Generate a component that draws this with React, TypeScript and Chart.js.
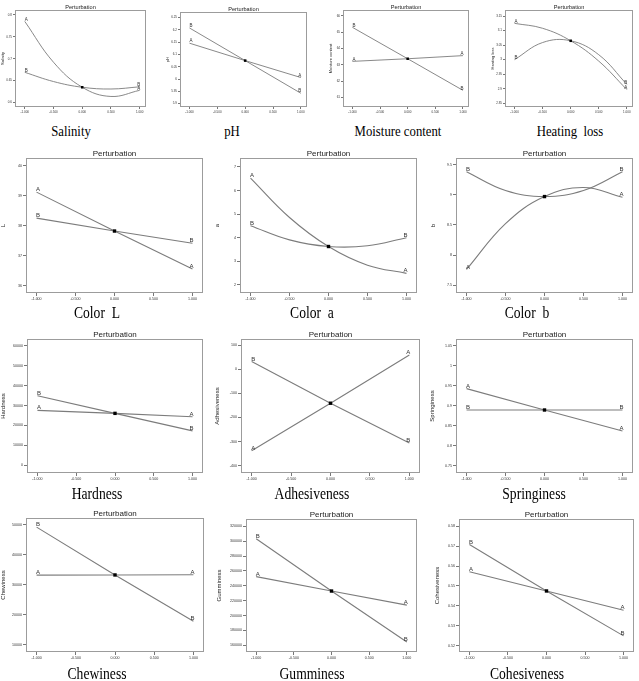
import React, { useEffect, useRef } from "react";
import { Chart, registerables } from "chart.js";

Chart.register(...registerables);

// x positions (coded factor level) of the plotted points
const curveX = [-1, -0.5, 0, 0.5, 1];
const lineX = [-1, 0, 1];
const xTickValues = [-1, -0.5, 0, 0.5, 1];
const xTickLabels = ["-1.000", "-0.500", "0.000", "0.500", "1.000"];

// Salinity
const salinityA = [0.785, 0.692, 0.635, 0.614, 0.628];
const salinityB = [0.669, 0.648, 0.635, 0.631, 0.636];
const salinityTicks = [0.6, 0.65, 0.7, 0.75, 0.8];

// pH
const phA = [6.146, 6.075, 6.006];
const phB = [6.208, 6.075, 5.942];
const phTicks = [5.9, 5.95, 6, 6.05, 6.1, 6.15, 6.2, 6.25];

// Moisture content
const moistureA = [63.21, 63.37, 63.56];
const moistureB = [65.29, 63.37, 61.44];
const moistureTicks = [61, 62, 63, 64, 65, 66];

// Heating loss
const heatingA = [3.125, 3.108, 3.065, 2.995, 2.897];
const heatingB = [3.0, 3.059, 3.065, 3.017, 2.915];
const heatingTicks = [2.85, 2.9, 2.95, 3, 3.05, 3.1, 3.15];

// Color L
const colorLA = [39.12, 37.82, 36.55];
const colorLB = [38.25, 37.82, 37.41];
const colorLTicks = [36, 37, 38, 39, 40];

// Color a
const colorAA = [6.53, 4.86, 3.63, 2.84, 2.49];
const colorAB = [4.51, 3.91, 3.63, 3.66, 4.0];
const colorATicks = [2, 3, 4, 5, 6, 7];

// Color b
const colorBA = [7.76, 8.52, 8.97, 9.12, 8.96];
const colorBB = [9.38, 9.07, 8.97, 9.07, 9.38];
const colorBTicks = [7.5, 8, 8.5, 9, 9.5];

// Hardness
const hardnessA = [27600, 26100, 24400];
const hardnessB = [35000, 26100, 17300];
const hardnessTicks = [0, 10000, 20000, 30000, 40000, 50000, 60000];

// Adhesiveness
const adhesivenessA = [-338, -141, 59];
const adhesivenessB = [32, -141, -306];
const adhesivenessTicks = [-400, -300, -200, -100, 0, 100];

// Springiness
const springinessA = [0.943, 0.8895, 0.837];
const springinessB = [0.8895, 0.8895, 0.8895];
const springinessTicks = [0.75, 0.8, 0.85, 0.9, 0.95, 1, 1.05];

// Chewiness
const chewinessA = [33200, 33240, 33300];
const chewinessB = [49200, 33240, 17800];
const chewinessTicks = [10000, 20000, 30000, 40000, 50000];

// Gumminess
const gumminessA = [252400, 233000, 214100];
const gumminessB = [303300, 233000, 164500];
const gumminessTicks = [160000, 180000, 200000, 220000, 240000, 260000, 280000, 300000, 320000];

// Cohesiveness
const cohesivenessA = [0.5572, 0.5475, 0.5378];
const cohesivenessB = [0.5709, 0.5475, 0.5249];
const cohesivenessTicks = [0.52, 0.53, 0.54, 0.55, 0.56, 0.57, 0.58];

const SANS = '"Liberation Sans", Arial, sans-serif';
const SERIF = '"Liberation Serif", "Times New Roman", serif';
const LINE = "#7c7c7c";
const FRAME = "#9c9c9c";
const TICK = "#777777";
const TEXT = "#333333";

type RowStyle = {
  xMin: number; xMax: number; xAxisH: number; padTop: number; padRight: number;
  tickFont: number; tickLen: number; yTitleFont: number; yTitlePad: number;
  letterFont: number; letterDy: number; titleFont: number; titleOffset: number;
  dot: number; lineW: number; capFont: number;
};

const SMALL: RowStyle = {
  xMin: -1.17, xMax: 1.11, xAxisH: 9, padTop: 10, padRight: 5,
  tickFont: 3, tickLen: 2, yTitleFont: 4, yTitlePad: 1,
  letterFont: 4.5, letterDy: 2, titleFont: 5.6, titleOffset: 3,
  dot: 1.8, lineW: 0.9, capFont: 15,
};

const LARGE: RowStyle = {
  xMin: -1.135, xMax: 1.135, xAxisH: 12, padTop: 12, padRight: 6,
  tickFont: 3.6, tickLen: 3, yTitleFont: 6, yTitlePad: 0.5,
  letterFont: 6, letterDy: 2.6, titleFont: 8, titleOffset: 4.5,
  dot: 2.4, lineW: 1.1, capFont: 16,
};

type Panel = {
  caption: string;
  yTitle: string;
  xs: number[];
  a: number[];
  b: number[];
  yTicks: number[];
  yMin: number;
  yMax: number;
  box: [number, number, number, number];
  style: RowStyle;
  axisW: number;
  curved: boolean;
  capX: number;
  capY: number;
};

const panels: Panel[] = [
  { caption: "Salinity", yTitle: "Salinity", xs: curveX, a: salinityA, b: salinityB, yTicks: salinityTicks, yMin: 0.59, yMax: 0.811, box: [15, 10, 146, 107], style: SMALL, axisW: 15, curved: true, capX: 71, capY: 131 },
  { caption: "pH", yTitle: "pH", xs: lineX, a: phA, b: phB, yTicks: phTicks, yMin: 5.886, yMax: 6.273, box: [180, 12, 307, 107], style: SMALL, axisW: 15, curved: false, capX: 232, capY: 131 },
  { caption: "Moisture content", yTitle: "Moisture content", xs: lineX, a: moistureA, b: moistureB, yTicks: moistureTicks, yMin: 60.42, yMax: 66.35, box: [343, 10, 469, 107], style: SMALL, axisW: 15, curved: false, capX: 398, capY: 131 },
  { caption: "Heating  loss", yTitle: "Heating loss", xs: curveX, a: heatingA, b: heatingB, yTicks: heatingTicks, yMin: 2.837, yMax: 3.171, box: [505, 10, 633, 107], style: SMALL, axisW: 15, curved: true, capX: 570, capY: 131 },

  { caption: "Color  L", yTitle: "L", xs: lineX, a: colorLA, b: colorLB, yTicks: colorLTicks, yMin: 35.75, yMax: 40.26, box: [26, 158, 203, 293], style: LARGE, axisW: 26, curved: false, capX: 97, capY: 313 },
  { caption: "Color  a", yTitle: "a", xs: curveX, a: colorAA, b: colorAB, yTicks: colorATicks, yMin: 1.66, yMax: 7.38, box: [240, 158, 417, 293], style: LARGE, axisW: 26, curved: true, capX: 312, capY: 313 },
  { caption: "Color  b", yTitle: "b", xs: curveX, a: colorBA, b: colorBB, yTicks: colorBTicks, yMin: 7.37, yMax: 9.61, box: [456, 158, 633, 293], style: LARGE, axisW: 26, curved: true, capX: 527, capY: 313 },

  { caption: "Hardness", yTitle: "Hardness", xs: lineX, a: hardnessA, b: hardnessB, yTicks: hardnessTicks, yMin: -3900, yMax: 63500, box: [27, 339, 203, 473], style: LARGE, axisW: 27, curved: false, capX: 97, capY: 494 },
  { caption: "Adhesiveness", yTitle: "Adhesiveness", xs: lineX, a: adhesivenessA, b: adhesivenessB, yTicks: adhesivenessTicks, yMin: -430, yMax: 125, box: [241, 339, 420, 473], style: LARGE, axisW: 27, curved: false, capX: 312, capY: 494 },
  { caption: "Springiness", yTitle: "Springiness", xs: lineX, a: springinessA, b: springinessB, yTicks: springinessTicks, yMin: 0.732, yMax: 1.067, box: [456, 339, 633, 473], style: LARGE, axisW: 27, curved: false, capX: 534, capY: 494 },

  { caption: "Chewiness", yTitle: "Chewiness", xs: lineX, a: chewinessA, b: chewinessB, yTicks: chewinessTicks, yMin: 7540, yMax: 52240, box: [26, 518, 204, 652], style: LARGE, axisW: 26, curved: false, capX: 97, capY: 674 },
  { caption: "Gumminess", yTitle: "Gumminess", xs: lineX, a: gumminessA, b: gumminessB, yTicks: gumminessTicks, yMin: 150990, yMax: 329900, box: [246, 519, 417, 652], style: LARGE, axisW: 30, curved: false, capX: 312, capY: 674 },
  { caption: "Cohesiveness", yTitle: "Cohesiveness", xs: lineX, a: cohesivenessA, b: cohesivenessB, yTicks: cohesivenessTicks, yMin: 0.5168, yMax: 0.5837, box: [459, 519, 634, 652], style: LARGE, axisW: 25, curved: false, capX: 527, capY: 674 },
];

// Frame, "Perturbation" heading and the A/B end labels of each trace
const panelDecor = {
  id: "panelDecor",
  afterDraw(chart: any, _args: any, opts: any) {
    const { ctx, chartArea: ca } = chart;
    const st: RowStyle = opts.style;
    ctx.save();
    ctx.strokeStyle = FRAME;
    ctx.lineWidth = 1;
    ctx.strokeRect(Math.round(ca.left) + 0.5, Math.round(ca.top) + 0.5, Math.round(ca.right - ca.left) - 1, Math.round(ca.bottom - ca.top) - 1);

    ctx.fillStyle = "#222";
    ctx.font = `${st.titleFont}px ${SANS}`;
    ctx.textAlign = "center";
    ctx.textBaseline = "middle";
    ctx.fillText("Perturbation", (ca.left + ca.right) / 2, ca.top - st.titleOffset);

    ctx.fillStyle = TEXT;
    ctx.font = `${st.letterFont}px ${SANS}`;
    [1, 2].forEach((di) => {
      const meta = chart.getDatasetMeta(di);
      const letter = chart.data.datasets[di].label;
      const pts = meta.data;
      const first = pts[0];
      const last = pts[pts.length - 1];
      ctx.fillText(letter, first.x + 1.5, first.y - st.letterDy);
      ctx.fillText(letter, last.x - 1, last.y - st.letterDy);
    });
    ctx.restore();
  },
};

function PanelChart({ p }: { p: Panel }) {
  const ref = useRef<HTMLCanvasElement | null>(null);
  const st = p.style;
  const [l, t, r, b] = p.box;
  const w = r - l + p.axisW + st.padRight;
  const h = b - t + st.padTop + st.xAxisH;

  useEffect(() => {
    const canvas = ref.current;
    if (!canvas) return;
    const ci = p.xs.indexOf(0);
    const centre = p.a[ci];
    const lineSet = (label: string, ys: number[]) => ({
      label,
      data: p.xs.map((x, i) => ({ x, y: ys[i] })),
      borderColor: LINE,
      borderWidth: st.lineW,
      pointRadius: 0,
      fill: false,
      tension: p.curved ? 0.4 : 0,
      order: 1,
    });
    const chart = new Chart(canvas, {
      type: "line",
      data: {
        datasets: [
          {
            label: "centre",
            data: [{ x: 0, y: centre }],
            showLine: false,
            pointStyle: "rect",
            pointRadius: st.dot,
            backgroundColor: "#000",
            borderColor: "#000",
            borderWidth: 0,
            order: 0,
          },
          lineSet("A", p.a),
          lineSet("B", p.b),
        ] as any,
      },
      options: {
        animation: false,
        responsive: false,
        maintainAspectRatio: false,
        devicePixelRatio: 1,
        events: [],
        layout: { padding: { top: st.padTop, right: st.padRight, left: 0, bottom: 0 } },
        plugins: {
          legend: { display: false },
          tooltip: { enabled: false },
          title: { display: false },
          panelDecor: { style: st },
        } as any,
        scales: {
          x: {
            type: "linear",
            min: st.xMin,
            max: st.xMax,
            afterBuildTicks: (s: any) => {
              s.ticks = xTickValues.map((v) => ({ value: v }));
            },
            afterFit: (s: any) => {
              s.height = st.xAxisH;
              s.paddingLeft = 0;
              s.paddingRight = 0;
            },
            ticks: {
              callback: (_v: any, i: number) => xTickLabels[i],
              autoSkip: false,
              maxRotation: 0,
              minRotation: 0,
              padding: 1,
              color: TEXT,
              font: { size: st.tickFont, family: SANS },
            },
            grid: { drawOnChartArea: false, drawTicks: true, tickLength: st.tickLen, color: TICK },
            border: { display: false },
          },
          y: {
            type: "linear",
            min: p.yMin,
            max: p.yMax,
            afterBuildTicks: (s: any) => {
              s.ticks = p.yTicks.map((v) => ({ value: v }));
            },
            afterFit: (s: any) => {
              s.width = p.axisW;
              s.paddingTop = 0;
              s.paddingBottom = 0;
            },
            ticks: {
              callback: (_v: any, i: number) => String(p.yTicks[i]),
              autoSkip: false,
              padding: 1,
              color: TEXT,
              font: { size: st.tickFont, family: SANS },
            },
            grid: { drawOnChartArea: false, drawTicks: true, tickLength: st.tickLen, color: TICK },
            border: { display: false },
            title: {
              display: true,
              text: p.yTitle,
              color: "#222",
              font: { size: st.yTitleFont, family: SANS, lineHeight: 1 },
              padding: { top: st.yTitlePad, bottom: 0 },
            },
          },
        },
      } as any,
      plugins: [panelDecor],
    });
    return () => chart.destroy();
  }, []);

  return (
    <canvas
      ref={ref}
      width={w}
      height={h}
      style={{ position: "absolute", left: l - p.axisW, top: t - st.padTop, width: w, height: h }}
    />
  );
}

export default function App() {
  return (
    <div style={{ position: "absolute", left: 0, top: 0, width: 639, height: 681, background: "#fff", overflow: "hidden" }}>
      {panels.map((p) => (
        <React.Fragment key={p.caption}>
          <PanelChart p={p} />
          <div
            style={{
              position: "absolute",
              left: p.capX,
              top: p.capY,
              transform: "translate(-50%, -50%) scaleX(0.85)",
              fontFamily: SERIF,
              fontSize: p.style.capFont,
              lineHeight: 1,
              whiteSpace: "pre",
              color: "#000",
            }}
          >
            {p.caption}
          </div>
        </React.Fragment>
      ))}
    </div>
  );
}
